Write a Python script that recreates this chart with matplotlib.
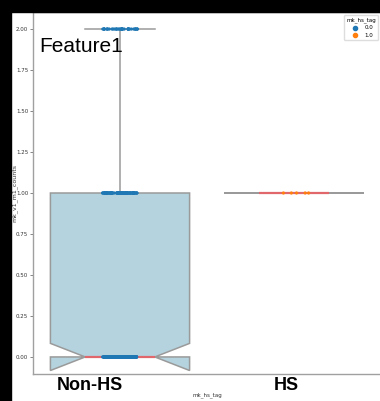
import numpy as np
import pandas as pd
import seaborn as sns
import matplotlib.pyplot as plt
from matplotlib.patches import Rectangle
from matplotlib.lines import Line2D
from matplotlib.transforms import ScaledTranslation

# how many rows take each mk_v1_m1_counts value, per mk_hs_tag group
count_values = [0, 1, 2]
non_hs_counts = [230, 90, 40]
hs_counts = [0, 5, 0]
group_tags = ['0.0', '1.0']
group_names = ['Non-HS', 'HS']
tag_colors = ['#1f77b4', '#ff7f0e']

rows = []
for tag, counts in zip(group_tags, [non_hs_counts, hs_counts]):
    for v, c in zip(count_values, counts):
        rows += [(tag, v)] * c
df = pd.DataFrame(rows, columns=['mk_hs_tag', 'mk_v1_m1_counts'])

plt.rcParams['font.family'] = 'DejaVu Sans'

fig = plt.figure(figsize=(3.8, 4.01), dpi=100)
ax = fig.add_axes([33 / 380, 27 / 401, 348 / 380, 362 / 401])

groups = [df.loc[df.mk_hs_tag == t, 'mk_v1_m1_counts'].values for t in group_tags]
edge = '#9a9a9a'
ax.boxplot(groups, positions=[0, 1], widths=0.8, notch=True, patch_artist=True,
           showfliers=False,
           boxprops=dict(facecolor='#b4d3de', edgecolor=edge, linewidth=1.1),
           whiskerprops=dict(color=edge, linewidth=1.1),
           capprops=dict(color=edge, linewidth=1.1),
           medianprops=dict(color='#e0676b', linewidth=1.6))

np.random.seed(3)
sns.stripplot(data=df, x='mk_hs_tag', y='mk_v1_m1_counts', hue='mk_hs_tag',
              order=group_tags, hue_order=group_tags,
              palette=dict(zip(group_tags, tag_colors)),
              size=2.3, jitter=True, legend=False, ax=ax, zorder=3)

ax.set_xlim(-0.5, 1.5)
ax.set_ylim(-0.104, 2.104)
yt = np.arange(0, 2.01, 0.25)
ax.set_yticks(yt)
ax.set_yticklabels([f'{v:.2f}' for v in yt])
ax.tick_params(axis='y', labelsize=4, length=2, width=0.5, pad=1.5,
               color='#555555', labelcolor='#333333')

ax.set_xticks([0, 1])
ax.set_xticklabels(group_names, fontsize=13, fontweight='bold',
                   family='Liberation Sans')
ax.tick_params(axis='x', length=0, pad=2)
for lbl, dx in zip(ax.get_xticklabels(), [-30, -7.5]):
    lbl.set_transform(lbl.get_transform() +
                      ScaledTranslation(dx / 100, 0, fig.dpi_scale_trans))

for s in ax.spines.values():
    s.set_color('#a0a0a0')
    s.set_linewidth(1.0)

ax.set_xlabel('mk_hs_tag', fontsize=4, color='#333333')
ax.xaxis.set_label_coords(0.5, -0.05)
ax.set_ylabel('mk_v1_m1_counts', fontsize=4.5, color='#333333')
ax.yaxis.set_label_coords(-0.046, 0.5)

handles = [Line2D([], [], marker='o', linestyle='', color=c, markersize=3)
           for c in tag_colors]
leg = ax.legend(handles, group_tags, title='mk_hs_tag', loc='upper right',
                fontsize=4, title_fontsize=4, handletextpad=0.8,
                borderaxespad=0.5, framealpha=1, edgecolor='#dddddd')

fig.text(39 / 380, 1 - 52 / 401, 'Feature1', fontsize=15,
         family='Liberation Sans', va='baseline')

# dark strips along the top and left edges
fig.add_artist(Rectangle((0, 1 - 12 / 401), 1, 12 / 401, transform=fig.transFigure,
                         color='black', zorder=10))
fig.add_artist(Rectangle((0, 0), 11 / 380, 1, transform=fig.transFigure,
                         color='black', zorder=10))

fig.savefig('out.png', dpi=100)
